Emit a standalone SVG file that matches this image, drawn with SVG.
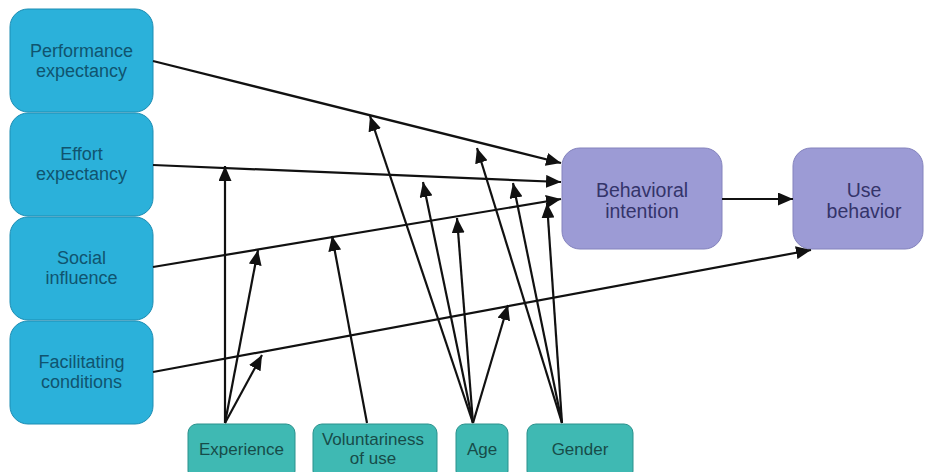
<svg xmlns="http://www.w3.org/2000/svg" width="926" height="472" viewBox="0 0 926 472">
  <defs>
    <marker id="ah" markerUnits="userSpaceOnUse" markerWidth="15" markerHeight="13" refX="15" refY="6.5" orient="auto">
      <path d="M0,0 L15,6.5 L0,13 z" fill="#111"/>
    </marker>
    <style>
      .blue rect { fill: #2bb1da; stroke: #1d8db3; stroke-width: 1; }
      .teal rect { fill: #3fb9b3; stroke: #2a918c; stroke-width: 1; }
      .purple rect { fill: #9c9bd5; stroke: #8483bd; stroke-width: 1; }
      text { font-family: "Liberation Sans", Arial, sans-serif; text-anchor: middle; }
      .blue text { fill: #10546f; font-size: 18px; }
      .teal text { fill: #174c49; font-size: 17px; }
      .purple text { fill: #34346a; font-size: 19.5px; }
      #connectors path { stroke: #111; stroke-width: 2.2; fill: none; marker-end: url(#ah); }
    </style>
  </defs>
  <rect width="926" height="472" fill="#ffffff"/>

  <g id="perf" class="blue">
    <rect x="10" y="9" width="143" height="103" rx="18"/>
    <text x="81.5" y="57">Performance</text>
    <text x="81.5" y="77">expectancy</text>
  </g>
  <g id="effort" class="blue">
    <rect x="10" y="113" width="143" height="103" rx="18"/>
    <text x="81.5" y="160">Effort</text>
    <text x="81.5" y="180">expectancy</text>
  </g>
  <g id="social" class="blue">
    <rect x="10" y="217" width="143" height="103" rx="18"/>
    <text x="81.5" y="264">Social</text>
    <text x="81.5" y="284">influence</text>
  </g>
  <g id="facil" class="blue">
    <rect x="10" y="321" width="143" height="103" rx="18"/>
    <text x="81.5" y="368">Facilitating</text>
    <text x="81.5" y="388">conditions</text>
  </g>

  <g id="bi" class="purple">
    <rect x="562" y="148" width="160" height="101" rx="18"/>
    <text x="642" y="197">Behavioral</text>
    <text x="642" y="218">intention</text>
  </g>
  <g id="ub" class="purple">
    <rect x="793" y="148" width="130" height="101" rx="18"/>
    <text x="864" y="197">Use</text>
    <text x="864" y="218">behavior</text>
  </g>

  <g id="experience" class="teal">
    <rect x="188" y="424" width="107" height="56" rx="9"/>
    <text x="241.5" y="455">Experience</text>
  </g>
  <g id="voluntariness" class="teal">
    <rect x="313" y="424" width="124" height="56" rx="9"/>
    <text x="373" y="445">Voluntariness</text>
    <text x="373" y="464">of use</text>
  </g>
  <g id="age" class="teal">
    <rect x="456" y="424" width="52" height="56" rx="9"/>
    <text x="482" y="455">Age</text>
  </g>
  <g id="gender" class="teal">
    <rect x="527" y="424" width="106" height="56" rx="9"/>
    <text x="580" y="455">Gender</text>
  </g>

  <g id="connectors">
    <path d="M153,61 L561,163"/>
    <path d="M153,165 L561,182"/>
    <path d="M153,267 L561,199"/>
    <path d="M153,372 L811,250"/>
    <path d="M722,199 L793,199"/>
    <path d="M225,423 L225,166"/>
    <path d="M225,423 L258,250"/>
    <path d="M225,423 L262,355"/>
    <path d="M367,423 L332,236"/>
    <path d="M473,423 L370,116"/>
    <path d="M473,423 L423,182"/>
    <path d="M473,423 L457,218"/>
    <path d="M473,423 L508,305"/>
    <path d="M562,423 L477,148"/>
    <path d="M562,423 L513,183"/>
    <path d="M562,423 L547,203"/>
  </g>
</svg>
